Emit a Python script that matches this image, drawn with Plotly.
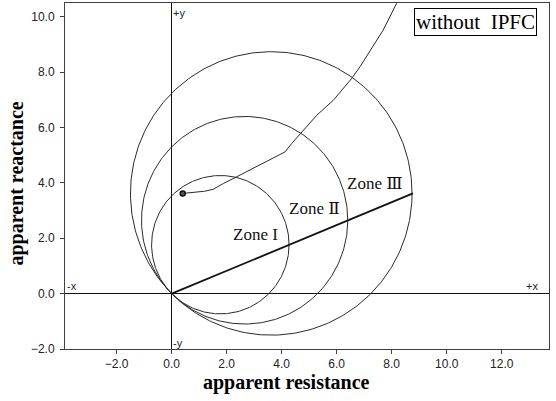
import numpy as np
import plotly.graph_objects as go

# ---- data ----
zone_names = ["Zone I", "Zone Ⅱ", "Zone Ⅲ"]
zone_radius = [2.50, 3.75, 5.12]          # mho circles passing through the origin
zone_angle_deg = 45.0                      # circle centres lie on the 45 deg line
zone_label_x = [3.05, 5.2, 7.4]
zone_label_y = [2.15, 3.08, 3.99]

reach_x = [0.0, 8.77]
reach_y = [0.0, 3.62]

traj_x = [0.40, 0.80, 1.20, 1.51, 1.88, 2.36, 3.20, 4.12, 4.36, 4.73, 5.27, 5.88, 6.55, 6.85, 7.69, 8.18, 8.30]
traj_y = [3.62, 3.67, 3.70, 3.77, 3.98, 4.22, 4.65, 5.12, 5.42, 5.84, 6.44, 6.99, 7.78, 8.20, 9.52, 10.49, 10.80]

x_ticks = [-2, 0, 2, 4, 6, 8, 10, 12]
y_ticks = [-2, 0, 2, 4, 6, 8, 10]
x_range = [-3.88, 13.72]
y_range = [-2.0, 10.5]

line_col = "#2a2a2a"
fig = go.Figure()

theta = np.linspace(0, 2 * np.pi, 361)
a = np.radians(zone_angle_deg)
for r in zone_radius:
    cx, cy = r * np.cos(a), r * np.sin(a)  # centre at distance r -> circle through origin
    fig.add_trace(go.Scatter(x=cx + r * np.cos(theta), y=cy + r * np.sin(theta), mode="lines",
                             line=dict(color=line_col, width=1), hoverinfo="skip", showlegend=False))

fig.add_trace(go.Scatter(x=reach_x, y=reach_y, mode="lines",
                         line=dict(color="#111", width=1.8), showlegend=False))
fig.add_trace(go.Scatter(x=traj_x, y=traj_y, mode="lines",
                         line=dict(color=line_col, width=1), showlegend=False))
fig.add_trace(go.Scatter(x=[traj_x[0]], y=[traj_y[0]], mode="markers",
                         marker=dict(color="#555", size=5, symbol="circle", line=dict(width=1.5, color="#111")),
                         showlegend=False))

serif = "Liberation Serif, DejaVu Serif, serif"
sans = "Liberation Sans, Arial, sans-serif"
ann = []
for name, lx, ly in zip(zone_names, zone_label_x, zone_label_y):
    ann.append(dict(x=lx, y=ly, xref="x", yref="y", text=name, showarrow=False,
                    font=dict(family=serif, size=17, color="#111"), xanchor="center", yanchor="middle"))
for t, x, y, xa in [("+y", 0, 10.15, "left"), ("-y", 0, -1.8, "left"), ("-x", -3.88, 0.27, "left"), ("+x", 13.4, 0.27, "right")]:
    ann.append(dict(x=x, y=y, xref="x", yref="y", text=t, showarrow=False, xanchor=xa, yanchor="middle",
                    font=dict(family=sans, size=11, color="#222"), xshift=-1 if t[1] == "y" else 0))
ann.append(dict(x=0.458, y=-0.098, xref="paper", yref="paper", text="<b>apparent resistance</b>", showarrow=False,
                xanchor="center", yanchor="middle", font=dict(family=serif, size=20, color="#000")))
ann.append(dict(x=-0.1, y=0.477, xref="paper", yref="paper", text="<b>apparent reactance</b>", showarrow=False,
                textangle=-90, xanchor="center", yanchor="middle", font=dict(family=serif, size=20, color="#000")))
ann.append(dict(x=0.848, y=0.945, xref="paper", yref="paper", text="without  IPFC", showarrow=False,
                xanchor="center", yanchor="middle", font=dict(family=serif, size=21, color="#000"),
                bordercolor="#000", borderwidth=1, borderpad=1, bgcolor="white"))

axis_common = dict(showgrid=False, showline=True, mirror=True, linecolor="#404040", linewidth=1,
                   ticks="outside", ticklen=4, tickcolor="#404040", tickformat=".1f",
                   tickfont=dict(family=sans, size=12, color="#222"), automargin=False,
                   zeroline=True, zerolinecolor="#111", zerolinewidth=1)
fig.update_layout(
    width=556, height=401, margin=dict(l=65, r=7, t=3, b=52, autoexpand=False),
    paper_bgcolor="white", plot_bgcolor="white",
    xaxis=dict(range=x_range, tickvals=x_ticks, **axis_common),
    yaxis=dict(range=y_range, tickvals=y_ticks, ticklabelstandoff=3, **axis_common),
    annotations=ann,
)
fig.write_html("out.html", config={"displayModeBar": False},
               post_script="document.body.style.margin='0px';")
